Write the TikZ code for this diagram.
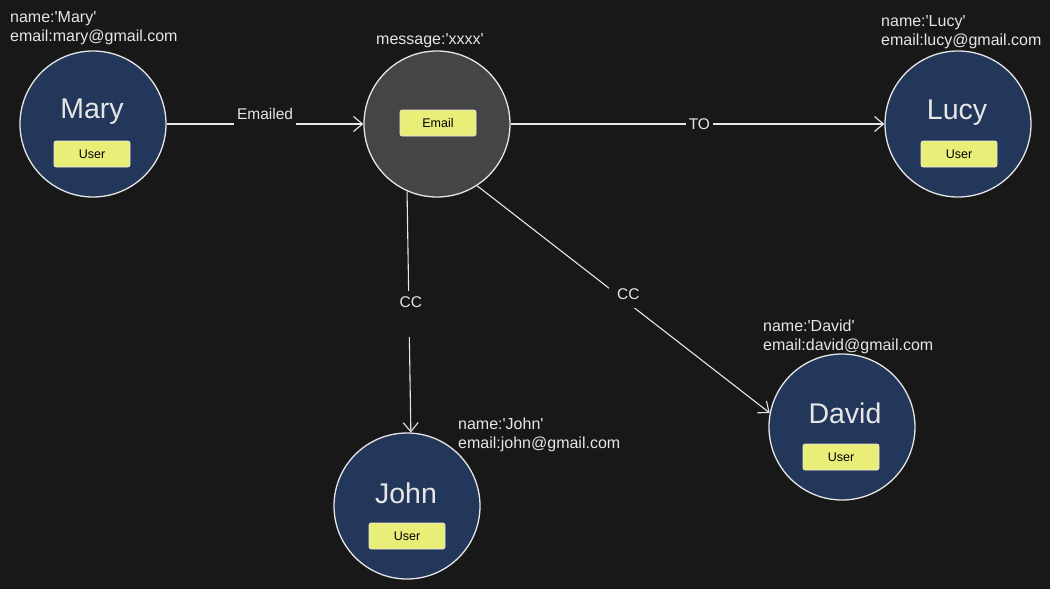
\documentclass[tikz,border=0pt]{standalone}
\usepackage{fontspec}
\setmainfont{Liberation Sans}[Ligatures=TeXOff]
\usetikzlibrary{arrows.meta}
\definecolor{bg}{HTML}{181818}
\definecolor{userblue}{HTML}{22375A}
\definecolor{mailgray}{HTML}{454545}
\definecolor{tagyellow}{HTML}{E9EE78}
\definecolor{ink}{HTML}{E6E6E6}
\tikzset{
  entity/.style={circle, draw=ink, line width=1.3pt, minimum size=146pt, inner sep=0pt},
  userent/.style={entity, fill=userblue},
  mailent/.style={entity, fill=mailgray},
  bigname/.style={text=ink, font=\fontsize{28.5}{32}\selectfont, inner sep=0pt},
  tag/.style={draw=ink!80, line width=0.6pt, fill=tagyellow, rounded corners=2pt, minimum width=76pt, minimum height=26pt, inner sep=0pt, text=black, font=\fontsize{12.5}{14}\selectfont},
  props/.style={text=ink, font=\fontsize{16}{19}\selectfont, align=left, inner sep=0pt, anchor=north west},
  rel/.style={draw=ink, line width=1.1pt, -{Straight Barb[length=9pt,width=15pt,line width=1.1pt]}},
  rellabel/.style={fill=bg, text=ink, font=\fontsize{15.5}{18}\selectfont, inner sep=3pt}
}
\begin{document}
\begin{tikzpicture}[x=1pt,y=-1pt]
\fill[bg] (0,0) rectangle (1050,589);
\useasboundingbox (0,0) rectangle (1050,589);

% entities
\node[userent] (mary) at (93,124) {};
\node[mailent] (email) at (437,124) {};
\node[userent] (lucy) at (958,124) {};
\node[userent] (john) at (407,506) {};
\node[userent] (david) at (842,427) {};

% names
\node[bigname] (maryname) at (92,112) {Mary};
\node[bigname] (lucyname) at (957,113) {Lucy};
\node[bigname] (johnname) at (406,493) {John};
\node[bigname] (davidname) at (845,413) {David};

% tags
\node[tag] (marytag) at (92,154) {User};
\node[tag] (emailtag) at (438,123) {Email};
\node[tag] (lucytag) at (959,154) {User};
\node[tag] (johntag) at (407,536) {User};
\node[tag] (davidtag) at (841,457) {User};

% properties
\node[props] (maryprops) at (10,11) {name:'Mary'\\email:mary@gmail.com};
\node[props] (emailprops) at (376,33) {message:'xxxx'};
\node[props] (lucyprops) at (881,15) {name:'Lucy'\\email:lucy@gmail.com};
\node[props] (johnprops) at (458,418) {name:'John'\\email:john@gmail.com};
\node[props] (davidprops) at (763,320) {name:'David'\\email:david@gmail.com};

% relations
\draw[rel] (mary.east) -- node[rellabel, anchor=base, yshift=5pt, text depth=4pt] (lblemailed) {Emailed} (email.west);
\draw[rel] (email.east) -- node[rellabel, pos=0.505] (lblto) {TO} (lucy.west);
\draw[rel] (email.246.6) -- node[rellabel, pos=0.47, anchor=north, yshift=14pt, xshift=2pt, inner xsep=4pt, inner ysep=0pt, text depth=30pt, text height=16pt] (lblcc1) {CC} (john.87);
\draw[rel] (email.-57) -- node[rellabel, pos=0.51, inner sep=8pt, yshift=7pt, xshift=2pt] (lblcc2) {CC} (david.169);
\end{tikzpicture}
\end{document}
